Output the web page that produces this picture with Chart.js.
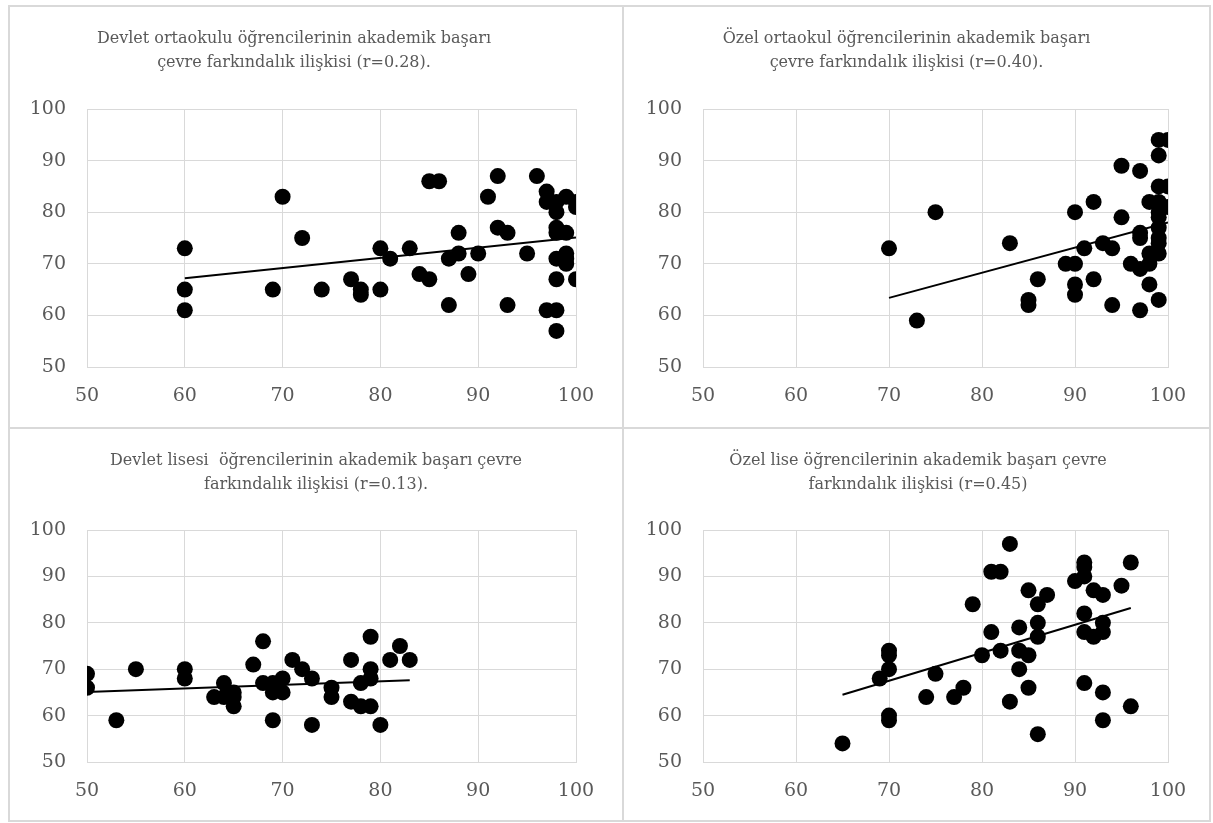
<!DOCTYPE html>
<html><head><meta charset="utf-8">
<script src="https://cdn.jsdelivr.net/npm/chart.js@4.4.1/dist/chart.umd.min.js"></script>
<style>
html,body{margin:0;padding:0;background:#fff;}
#wrap{position:relative;width:1213px;height:823px;overflow:hidden;}
.ln{position:absolute;background:#d9d9d9;}
.cell{position:absolute;}
canvas{display:block;}
</style></head><body>
<div id="wrap">
  <div class="ln" style="left:8px;top:5px;width:1203px;height:2px"></div>
  <div class="ln" style="left:8px;top:820px;width:1203px;height:2px"></div>
  <div class="ln" style="left:8px;top:5px;width:2px;height:817px"></div>
  <div class="ln" style="left:1209px;top:5px;width:2px;height:817px"></div>
  <div class="ln" style="left:622px;top:5px;width:2px;height:817px"></div>
  <div class="ln" style="left:8px;top:427px;width:1203px;height:2px"></div>
  <div class="cell" style="left:10px;top:7px"><canvas id="c1" width="612" height="420"></canvas></div>
  <div class="cell" style="left:624px;top:7px"><canvas id="c2" width="585" height="420"></canvas></div>
  <div class="cell" style="left:10px;top:429px"><canvas id="c3" width="612" height="391"></canvas></div>
  <div class="cell" style="left:624px;top:429px"><canvas id="c4" width="585" height="391"></canvas></div>
</div>
<script>
// ---- data ----
const axisTicks = [50, 60, 70, 80, 90, 100];

const title1 = ["Devlet ortaokulu öğrencilerinin akademik başarı", "çevre farkındalık ilişkisi (r=0.28)."];
const p1X = [60,60,60,69,70,72,74,77,78,78,80,80,81,83,84,85,85,86,87,87,88,88,89,90,91,92,92,93,93,95,96,97,97,97,98,98,98,98,98,98,98,98,99,99,99,99,99,100,100,100];
const p1Y = [73,65,61,65,83,75,65,67,65,64,73,65,71,73,68,67,86,86,71,62,76,72,68,72,83,87,77,76,62,72,87,84,82,61,82,80,77,76,71,67,61,57,83,76,72,70,71,82,81,67];
const t1X = [60, 100];
const t1Y = [67.2, 75.1];

const title2 = ["Özel ortaokul öğrencilerinin akademik başarı", "çevre farkındalık ilişkisi (r=0.40)."];
const p2X = [70,73,75,83,85,85,86,89,90,90,90,90,91,92,92,93,94,94,95,95,96,97,97,97,97,97,98,98,98,98,99,99,99,99,99,99,99,99,99,99,99,100,100,100];
const p2Y = [73,59,80,74,63,62,67,70,70,80,66,64,73,82,67,74,73,62,89,79,70,88,76,75,69,61,82,72,70,66,94,91,85,82,80,79,77,75,74,72,63,94,85,81];
const t2X = [70, 100];
const t2Y = [63.4, 78.0];

const title3 = ["Devlet lisesi  öğrencilerinin akademik başarı çevre", "farkındalık ilişkisi (r=0.13)."];
const p3X = [50,50,53,55,60,60,63,64,64,65,65,65,67,68,68,69,69,69,70,70,71,72,73,73,75,75,77,77,78,78,79,79,79,79,80,81,82,83];
const p3Y = [69,66,59,70,70,68,64,67,64,65,64,62,71,76,67,65,59,67,68,65,72,70,68,58,66,64,72,63,67,62,77,70,68,62,58,72,75,72];
const t3X = [50, 83];
const t3Y = [65.1, 67.6];

const title4 = ["Özel lise öğrencilerinin akademik başarı çevre", "farkındalık ilişkisi (r=0.45)"];
const p4X = [65,69,70,70,70,70,70,74,75,77,78,79,80,81,81,82,82,83,83,84,84,84,85,85,85,86,86,86,86,87,90,91,91,91,91,91,91,92,92,93,93,93,93,93,95,96,96];
const p4Y = [54,68,74,73,70,60,59,64,69,64,66,84,73,91,78,91,74,97,63,79,74,70,87,73,66,84,80,77,56,86,89,93,92,90,82,78,67,87,77,86,80,78,65,59,88,93,62];
const t4X = [65, 96];
const t4Y = [64.5, 83.2];

// ---- chart builder ----
const FONT = "'DejaVu Serif', serif";
const GREY = '#595959';
const GRID = '#d9d9d9';

function makeChart(id, title, xs, ys, tx, ty, L) {
  const pts = xs.map((x, i) => ({x: x, y: ys[i]}));
  const trend = tx.map((x, i) => ({x: x, y: ty[i]}));
  const axis = (isX) => ({
    type: 'linear', min: axisTicks[0], max: axisTicks[axisTicks.length - 1],
    afterBuildTicks: (s) => { s.ticks = axisTicks.map(v => ({value: v})); },
    ticks: {color: GREY, font: {family: FONT, size: 19}, padding: isX ? L.xp : L.yp},
    grid: {color: GRID, lineWidth: 1, drawTicks: false},
    border: {color: GRID, width: 1},
    afterFit: (s) => { if (isX) s.height = L.xh; else s.width = L.yw; }
  });
  const scales = {x: axis(true), y: axis(false)};
  if (L.dw > 0) {
    scales.y2 = {
      type: 'linear', position: 'right', display: true, min: 0, max: 1,
      grid: {display: false, drawTicks: false}, border: {display: false},
      ticks: {display: false},
      afterFit: (s) => { s.width = L.dw; }
    };
  }
  return new Chart(document.getElementById(id), {
    type: 'scatter',
    data: {datasets: [
      {data: trend, showLine: true, borderColor: '#000', borderWidth: 2, pointRadius: 0, fill: false},
      {data: pts, backgroundColor: '#000', borderWidth: 0, pointRadius: 8, pointHoverRadius: 8}
    ]},
    options: {
      responsive: false, animation: false, events: [],
      layout: {padding: {left: L.pl, right: L.pr, top: 0, bottom: 0}},
      plugins: {
        legend: {display: false}, tooltip: {enabled: false},
        title: {display: true, text: title, color: GREY,
          font: {family: FONT, size: 16, weight: 'normal', lineHeight: 1.5},
          padding: {top: L.tt, bottom: L.tb}}
      },
      scales: scales
    }
  });
}

const LT = {pl: 2,  pr: 46, yw: 75, dw: 0,  tt: 20, tb: 34, xh: 60, xp: 18, yp: 21};
const RT = {pl: 21, pr: 41, yw: 58, dw: 0,  tt: 20, tb: 34, xh: 60, xp: 18, yp: 21};
const LB = {pl: 10, pr: 10, yw: 67, dw: 36, tt: 20, tb: 33, xh: 58, xp: 18, yp: 21};
const RB = {pl: 10, pr: 7,  yw: 69, dw: 34, tt: 20, tb: 33, xh: 58, xp: 18, yp: 21};

makeChart('c1', title1, p1X, p1Y, t1X, t1Y, LT);
makeChart('c2', title2, p2X, p2Y, t2X, t2Y, RT);
makeChart('c3', title3, p3X, p3Y, t3X, t3Y, LB);
makeChart('c4', title4, p4X, p4Y, t4X, t4Y, RB);
</script>
</body></html>
